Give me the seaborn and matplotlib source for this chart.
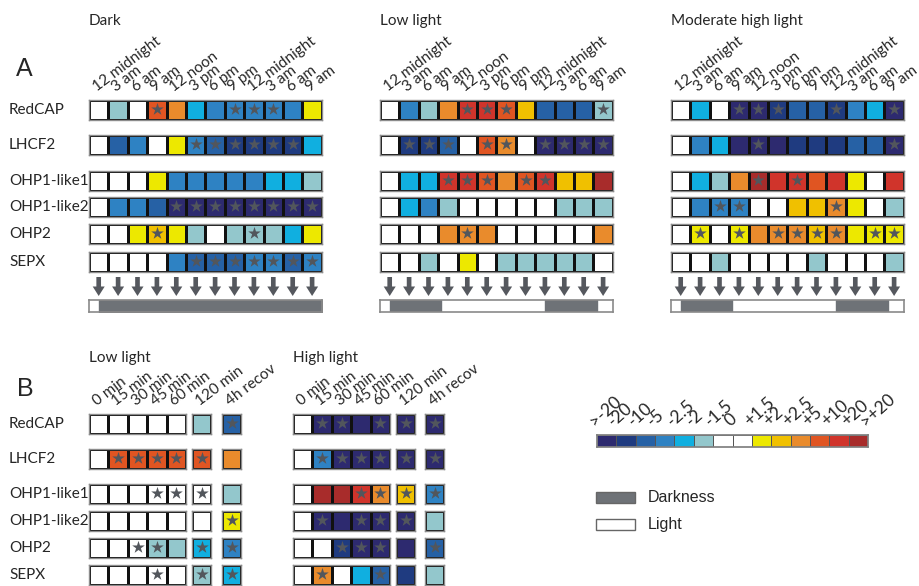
# Perfiles de expresión: panel A (ciclo diurno) y panel B (cambio de luz)
import numpy as np
import matplotlib.pyplot as plt
import seaborn as sns
from matplotlib.colors import ListedColormap
from matplotlib.patches import Rectangle

sns.set_theme(style="white")
plt.rcParams["font.family"] = ["Lato", "DejaVu Sans"]

W = 7  # código para celda blanca

genes = ["RedCAP", "LHCF2", "OHP1-like1", "OHP1-like2", "OHP2", "SEPX"]
times_a = ["12 midnight", "3 am", "6 am", "9 am", "12 noon", "3 pm", "6 pm",
           "9 pm", "12 midnight", "3 am", "6 am", "9 am"]
times_b = ["0 min", "15 min", "30 min", "45 min", "60 min", "120 min", "4h recov"]

scale_labels = [">-20", "-20", "-10", "-5", "-2.5", "-2", "-1.5", "0",
                "+1.5", "+2", "+2.5", "+5", "+10", "+20", ">+20"]
scale_colors = ["#2d2a6f", "#1f3b80", "#2661a5", "#2e82c3", "#10afe0", "#93c7cc",
                "#ffffff", "#ffffff", "#ede800", "#f0c000", "#e98b2c", "#e05522",
                "#d0342b", "#a82c2b"]

# --- Panel A ---
dark_codes = [
    [W, 5, W, 11, 10, 4, 3, 3, 3, 3, 3, 8],
    [W, 2, 3, W, 8, 3, 2, 1, 1, 1, 1, 4],
    [W, W, W, 8, 3, 3, 3, 3, 3, 4, 4, 5],
    [W, 3, 3, 2, 0, 0, 0, 0, 0, 0, 0, 0],
    [W, W, 8, 9, 8, 5, W, 5, 5, 5, 4, 8],
    [W, W, W, W, 3, 2, 2, 2, 3, 3, 2, 3],
]
dark_stars = [[3, 7, 8, 9], [5, 6, 7, 8, 9, 10], [], [4, 5, 6, 7, 8, 9, 10, 11],
              [3, 8], [5, 6, 7, 8, 9, 10, 11]]

low_codes = [
    [W, 3, 5, 10, 12, 12, 11, 9, 2, 2, 2, 5],
    [W, 1, 1, 2, W, 11, 10, W, 0, 0, 0, 0],
    [W, 4, 4, 12, 12, 11, 10, 11, 12, 9, 9, 13],
    [W, 4, 3, 5, W, W, W, W, W, 5, 5, 5],
    [W, W, W, 10, 10, 10, W, W, W, W, W, 10],
    [W, W, 5, W, 8, W, 5, 5, 5, 5, 5, W],
]
low_stars = [[4, 5, 6, 11], [1, 2, 3, 5, 6, 8, 9, 10, 11], [3, 4, 5, 7, 8], [], [4], []]

mod_codes = [
    [W, 4, W, 0, 0, 1, 2, 2, 1, 3, 4, 0],
    [W, 3, 4, 0, 0, 0, 1, 1, 1, 2, 2, 0],
    [W, 4, 5, 10, 13, 12, 12, 11, 12, 8, W, 12],
    [W, 3, 3, 3, W, W, 9, 9, 10, 8, W, 5],
    [W, 8, W, 8, 10, 10, 10, 9, 10, 8, 8, 8],
    [W, W, 5, W, W, W, W, 5, W, W, W, 5],
]
mod_stars = [[3, 4, 5, 8, 11], [4, 11], [4, 6], [2, 3, 8], [1, 3, 5, 6, 7, 8, 10, 11], []]

# periodos de oscuridad (horas desde medianoche)
dark_only = [(0, 34.5)]
light_cycle = [(0, 8), (24, 32)]

# --- Panel B ---
bll_codes = [
    [W, W, W, W, W, 5, 2],
    [W, 11, 11, 11, 11, 11, 10],
    [W, W, W, W, W, W, 5],
    [W, W, W, W, W, W, 8],
    [W, W, W, 5, 5, 4, 3],
    [W, W, W, W, W, 5, 4],
]
bll_stars = [[6], [1, 2, 3, 4, 5], [3, 4, 5], [6], [2, 3, 5, 6], [3, 5, 6]]

bhl_codes = [
    [W, 0, 0, 0, 0, 0, 0],
    [W, 3, 0, 0, 0, 0, 0],
    [W, 13, 13, 12, 10, 9, 3],
    [W, 0, 0, 0, 0, 0, 5],
    [W, W, 1, 0, 0, 0, 2],
    [W, 10, W, 4, 2, 1, 5],
]
bhl_stars = [[1, 2, 4, 5, 6], [1, 2, 3, 4, 5, 6], [3, 4, 5, 6], [1, 3, 4, 5],
             [2, 3, 4, 6], [1, 4]]

cmap = ListedColormap(scale_colors)
FW, FH = 919, 586
CELL = 19.4
STAR = "#52565c"
FS = 11
FT = 11
ROT = 37

fig = plt.figure(figsize=(FW / 100, FH / 100), dpi=100)


def px_axes(x, y, w, h):
    return fig.add_axes([x / FW, 1 - (y + h) / FH, w / FW, h / FH])


def fila(x, y, codes, stars, labels=None, offset=0):
    ax = px_axes(x, y, CELL * len(codes), 19.5)
    sns.heatmap(np.array([codes]), ax=ax, cmap=cmap, vmin=-0.5, vmax=13.5,
                cbar=False, linewidths=0.9, linecolor="#111111",
                xticklabels=False, yticklabels=False)
    for s in ax.spines.values():
        s.set_visible(True)
        s.set_color("#8c8c8c")
        s.set_linewidth(1.0)
    pos = [i - offset for i in stars if 0 <= i - offset < len(codes)]
    if pos:
        ax.scatter(np.array(pos) + 0.5, [0.46] * len(pos), marker="*", s=90,
                   color=STAR, zorder=3, linewidths=0)
    if labels is not None:
        ax.xaxis.tick_top()
        ax.set_xticks(np.arange(len(labels)) + 0.5)
        ax.set_xticklabels(labels, rotation=ROT, ha="left",
                           rotation_mode="anchor", fontsize=FT)
        ax.tick_params(length=0, pad=4)
    return ax


row_top_a = [100, 135, 171, 197, 224, 252]
row_top_b = [414, 449, 484, 511, 538, 565]

paneles_a = [("Dark", 89, dark_codes, dark_stars, dark_only),
             ("Low light", 380, low_codes, low_stars, light_cycle),
             ("Moderate high light", 671, mod_codes, mod_stars, light_cycle)]

for titulo, x0, codes, stars, oscuro in paneles_a:
    fig.text(x0 / FW, 1 - 25 / FH, titulo, fontsize=FS)
    for r, y in enumerate(row_top_a):
        fila(x0, y, codes[r], stars[r], times_a if r == 0 else None)
    # flechas
    ax = px_axes(x0, 277, CELL * 12, 19)
    ax.set_xlim(0, 12)
    ax.set_ylim(0, 1)
    for i in range(12):
        ax.arrow(i + 0.5, 1, 0, -1, width=0.24, head_width=0.62, head_length=0.5,
                 length_includes_head=True, color="#55585e", lw=0)
    ax.axis("off")
    # barra luz / oscuridad
    ax = px_axes(x0, 300, CELL * 12, 12)
    ax.broken_barh([(a, b - a) for a, b in oscuro], (0, 1), color="#6e7277")
    ax.set_xlim(-1.5, 34.5)
    ax.set_ylim(0, 1)
    ax.set_xticks([])
    ax.set_yticks([])
    for s in ax.spines.values():
        s.set_visible(True)
        s.set_color("#8a8a8a")
        s.set_linewidth(1.2)

for r, y in enumerate(row_top_a):
    fig.text(9 / FW, 1 - (y + 10) / FH, genes[r], fontsize=FS, va="center")

fig.text(16 / FW, 1 - 76 / FH, "A", fontsize=18, family="Liberation Sans")
fig.text(17 / FW, 1 - 396 / FH, "B", fontsize=18, family="Liberation Sans")

paneles_b = [("Low light", [89, 192, 222], bll_codes, bll_stars),
             ("High light", [293, 396, 425], bhl_codes, bhl_stars)]
bloques = [(0, 5), (5, 6), (6, 7)]

for titulo, xs, codes, stars in paneles_b:
    fig.text(xs[0] / FW, 1 - 362 / FH, titulo, fontsize=FS)
    for r, y in enumerate(row_top_b):
        for (a, b), x0 in zip(bloques, xs):
            fila(x0, y, codes[r][a:b], stars[r], times_b[a:b] if r == 0 else None,
                 offset=a)

for r, y in enumerate(row_top_b):
    fig.text(9 / FW, 1 - (y + 10) / FH, genes[r], fontsize=FS, va="center")

# escala de colores
ax = px_axes(597, 435, 271, 12)
sns.heatmap(np.arange(len(scale_colors))[None, :], ax=ax, cmap=cmap, vmin=-0.5,
            vmax=13.5, cbar=False, linewidths=0.6, linecolor="#555555",
            xticklabels=False, yticklabels=False)
for s in ax.spines.values():
    s.set_visible(True)
    s.set_color("#808080")
ax.xaxis.tick_top()
ax.set_xticks(np.arange(len(scale_labels)))
ax.set_xticklabels(scale_labels, rotation=42, ha="left", rotation_mode="anchor",
                   fontsize=12.5)
ax.tick_params(length=0, pad=4)

# leyenda luz / oscuridad
for y, color, texto in [(492, "#6e7277", "Darkness"), (519, "#ffffff", "Light")]:
    fig.patches.append(Rectangle((596 / FW, 1 - (y + 11) / FH), 39 / FW, 11 / FH,
                                 transform=fig.transFigure, facecolor=color,
                                 edgecolor="#666666", lw=1))
    fig.text(648 / FW, 1 - (y + 6) / FH, texto, fontsize=11.5, va="center",
             family="Liberation Sans")

fig.savefig("out.png", dpi=100)
